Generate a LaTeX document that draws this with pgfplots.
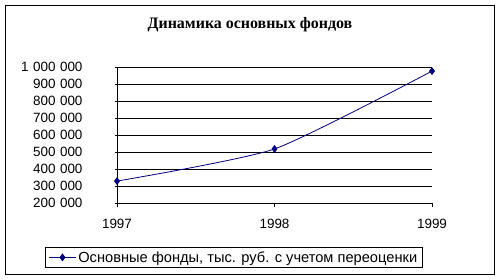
\documentclass[border=0pt]{standalone}
\usepackage{pgfplots}
\pgfplotsset{compat=1.18}
\usepackage{fontspec}
\setmainfont{Liberation Sans}
\newfontfamily\titlefont{Liberation Serif}
\definecolor{navy}{RGB}{0,0,128}
\begin{document}
\begin{tikzpicture}[x=1bp,y=1bp]
\path[use as bounding box] (-117,-76) rectangle (383,203);
\draw[line width=0.9bp] (-112,-71) rectangle (377,198);
\node[font=\titlefont\bfseries\fontsize{16}{18}\selectfont] at (133,178) {Динамика основных фондов};
\begin{axis}[
  at={(0,0)}, anchor=origin,
  scale only axis,
  width=315bp, height=136bp,
  xmin=1997, xmax=1999,
  ymin=200000, ymax=1000000,
  axis x line*=bottom, axis y line*=left,
  axis line style={-, line width=0.8bp},
  xtick={1997,1998,1999},
  ytick={200000,300000,400000,500000,600000,700000,800000,900000,1000000},
  scaled y ticks=false,
  ymajorgrids,
  grid style={black, line width=0.8bp},
  major tick length=4bp,
  xtick align=outside,
  ytick align=center,
  tick style={black, line width=0.8bp},
  /pgf/number format/assume math mode=true,
  yticklabel style={/pgf/number format/.cd, fixed, 1000 sep={\,\,}, /tikz/.cd, font=\fontsize{13.5}{15}\selectfont, xshift=-29bp},
  xticklabel style={/pgf/number format/.cd, 1000 sep={}, /tikz/.cd, font=\fontsize{13.5}{15}\selectfont, yshift=-9bp},
  legend style={at={(0.371,-0.40)}, anchor=center, draw=black, line width=0.8bp, font=\fontsize{14.7}{16}\selectfont, inner xsep=3bp, inner ysep=2bp, legend cell align=left},
  legend image code/.code={\draw[mark repeat=2,mark phase=2] plot coordinates {(0bp,0bp) (13.5bp,0bp) (27bp,0bp)};},
]
\addplot[navy, line width=0.8bp, smooth, tension=0.35, mark=diamond*, mark size=3.3bp, mark options={fill=navy, draw=navy}]
coordinates {(1997,329000) (1998,518000) (1999,976000)};
\addlegendentry{Основные фонды, тыс. руб. с учетом переоценки}
\end{axis}
\end{tikzpicture}
\end{document}
